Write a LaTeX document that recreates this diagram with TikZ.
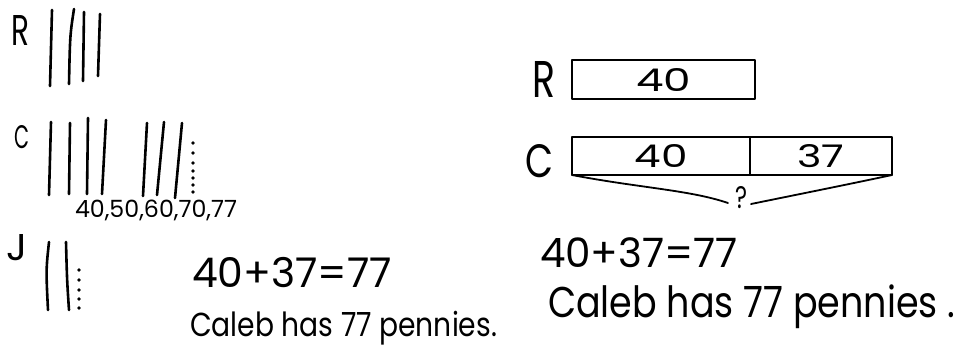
\documentclass[tikz,border=0pt]{standalone}
\usepackage{graphicx}
\usepackage{fontspec}
\setmainfont{Poppins}
\newcommand{\hwfit}[3]{\resizebox{#1pt}{#2pt}{#3}}
\newcommand{\hwwide}[2]{\resizebox{#1pt}{!}{#2}}
\newcommand{\hwtall}[2]{\scalebox{1}[1.18]{\resizebox{#1pt}{!}{#2}}}
\begin{document}
\begin{tikzpicture}[x=1pt,y=-1pt,
  ink/.style={line width=1.8pt, line cap=round, line join=round},
  tally/.style={line width=2.6pt, line cap=round},
  hw/.style={inner sep=0pt, outer sep=0pt, anchor=base west},
  inkdot/.style={circle, fill=black, inner sep=0pt, minimum size=3.6pt},
  barbox/.style={draw, ink, inner sep=0pt, outer sep=0pt, anchor=north west}]
\useasboundingbox (0,0) rectangle (960,349);

% ---------- left: tallies ----------
\node[hw] (lR) at (12,45) {\hwfit{18}{30}{R}};
\draw[tally] (52,10) -- (50,86);
\draw[tally] (74,9) .. controls (70,35) .. (69,84);
\draw[tally] (84,12) -- (83,81);
\draw[tally] (100,14) -- (98,76);

\node[hw] (lC) at (14,148) {\hwfit{15}{23}{C}};
\draw[tally] (51,122) -- (49,195);
\draw[tally] (70,123) -- (69,194);
\draw[tally] (88,118) -- (87,194);
\draw[tally] (106,120) -- (102,194);
\draw[tally] (147,123) -- (143,196);
\draw[tally] (164,122) -- (157,195);
\draw[tally] (182,123) -- (175,198);
\foreach \yy in {143,153,163,171,178,185,192}
  \node[inkdot] at (193,\yy) {};
\node[hw] (counts) at (75,217) {\hwwide{162}{40,50,60,70,77}};

\node[hw] (lJ) at (7,260) {\hwfit{21}{26}{J}};
\draw[tally] (49,242) .. controls (46,270) .. (48,310);
\draw[tally] (66,242) .. controls (67,280) .. (69,310);
\foreach \yy in {270,280,290,299,308}
  \node[inkdot] at (79,\yy) {};

\node[hw] (leq) at (192,287) {\hwwide{200}{40+37=77}};
\node[hw] (lans) at (190,336) {\hwtall{307}{Caleb has 77 pennies.}};

% ---------- right: tape diagram ----------
\node[hw] (rR) at (532,97) {\hwfit{23}{36}{R}};
\node[barbox, minimum width=183pt, minimum height=39pt] (rbox) at (572,60)
  {\hwfit{55}{23}{40}};

\node[hw] (rC) at (525,177) {\hwfit{28}{33}{C}};
\node[barbox, minimum width=178pt, minimum height=38pt] (cleft) at (572,137)
  {\hwfit{53}{23}{40}};
\node[barbox, minimum width=142pt, minimum height=38pt] (cright) at (750,137)
  {\hwfit{47}{23}{37}};

\node[inner sep=0pt] (q) at (741,198) {\hwfit{12}{22}{?}};
\coordinate (bl) at (728,203);
\coordinate (br) at (751,204);
\draw[ink] (cleft.south west) .. controls (640,188) and (690,190) .. (bl);
\draw[ink] (br) .. controls (800,194) and (850,184) .. (cright.south east);

\node[hw] (req) at (540,267) {\hwwide{198}{40+37=77}};
\node[hw] (rans) at (548,317) {\hwtall{407}{Caleb has 77 pennies .}};
\end{tikzpicture}
\end{document}
